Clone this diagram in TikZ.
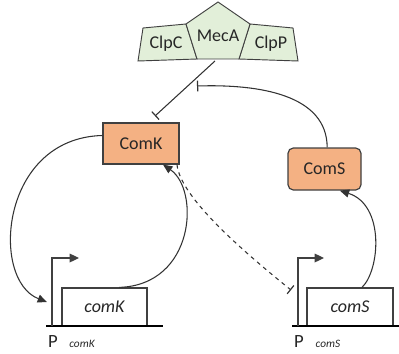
\documentclass[tikz,border=0pt]{standalone}
\usepackage{fontspec}
\setmainfont{Carlito}
\usetikzlibrary{arrows.meta}
\definecolor{orng}{HTML}{F4B183}
\definecolor{grn}{HTML}{E2EFD9}
\definecolor{edgegray}{HTML}{404040}
\begin{document}
\begin{tikzpicture}[x=0.75pt,y=-0.75pt,
  protbox/.style={draw=edgegray,line width=0.9pt,fill=orng,inner sep=0pt,font=\fontsize{13.5}{15}\selectfont,text=black!85},
  genebox/.style={draw=edgegray,line width=0.9pt,fill=white,inner sep=0pt,minimum height=28.5pt,font=\fontsize{13.5}{15}\selectfont\itshape,text=black!85},
  clp/.style={draw=edgegray,line width=0.7pt,fill=grn},
  clptext/.style={font=\fontsize{13.5}{15}\selectfont,text=black!85,inner sep=0pt},
  conn/.style={draw=black!80,line width=0.8pt},
  arr/.style={conn,-{Triangle[length=7pt,width=6pt]}},
  inh/.style={conn,-{Bar[width=8pt,line width=0.9pt]}},
  baseline/.style={draw=black,line width=1.8pt},
  prom/.style={draw=edgegray,line width=0.9pt,-{Triangle[length=7pt,width=6.5pt]}},
  plabel/.style={font=\fontsize{14}{16}\selectfont,text=black!85,inner sep=0pt},
  psub/.style={font=\fontsize{8.5}{10}\selectfont\itshape,text=black!85,inner sep=0pt}]
\useasboundingbox (0,0) rectangle (399,353);

% complex
\draw[clp] (143,28) -- (186,24) -- (197,59) -- (138,61) -- cycle;
\draw[clp] (293,28) -- (250,24) -- (239,59) -- (298,61) -- cycle;
\draw[clp] (218,2) -- (250,24) -- (239,59) -- (197,59) -- (186,24) -- cycle;
\node[clptext] (clpc) at (166,44) {ClpC};
\node[clptext] (meca) at (218,36) {MecA};
\node[clptext] (clpp) at (271,44) {ClpP};
\coordinate (mecabot) at (215,61);

% proteins
\node[protbox,minimum width=57pt,minimum height=30.75pt] (ComK) at (141,143.5) {ComK};
\node[protbox,rounded corners=4pt,minimum width=54.75pt,minimum height=31.5pt] (ComS) at (324.5,169) {ComS};

% genes
\node[genebox,minimum width=63.75pt] (comKg) at (104.5,307) {comK};
\node[genebox,minimum width=64.5pt] (comSg) at (350,307) {comS};
\draw[baseline] (46,326) -- (163,326);
\draw[baseline] (292,326) -- (399,326);
\coordinate (pK) at (52,326);
\coordinate (pS) at (298,326);
\draw[prom] (pK) -- (52,258) -- (79,258);
\draw[prom] (pS) -- (298,258) -- (324,258);
\node[plabel] (PK) at (53,342) {P};
\node[psub] (PKs) at (82,344) {comK};
\node[plabel] (PS) at (299,342) {P};
\node[psub] (PSs) at (328,344) {comS};

% connectors
\coordinate (pKin) at (47,302);
\coordinate (pSin) at (291,290);
\coordinate (comKbar) at (155,116);
\coordinate (comSbar) at (197,86);
\draw[inh] (mecabot) -- (comKbar);
\draw[arr] ([yshift=6pt]ComK.west) .. controls (0,138) and (-10,280) .. (pKin);
\draw[arr] ([xshift=11pt]comKg.north) .. controls (195,285) and (200,190) .. ([xshift=16.5pt]ComK.south);
\draw[inh,dashed] ([xshift=27pt]ComK.south) .. controls (180,195) and (235,245) .. (pSin);
\draw[arr] ([xshift=9pt]comSg.north) .. controls (380,270) and (385,205) .. ([xshift=11.5pt]ComS.south);
\draw[inh] ([xshift=2pt]ComS.north) .. controls (327,95) and (260,84) .. (comSbar);
\end{tikzpicture}
\end{document}
